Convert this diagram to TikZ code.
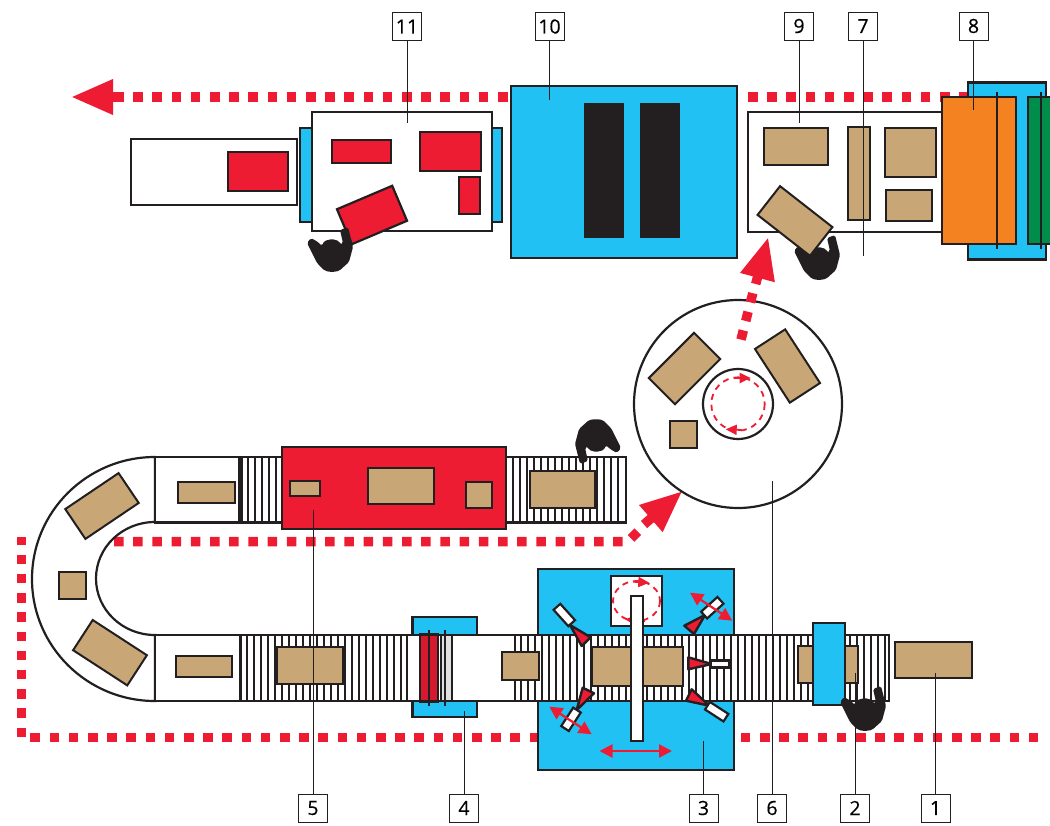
\documentclass[tikz,border=0pt]{standalone}
\usepackage{fontspec}
\setmainfont{Open Sans}
\newfontfamily\numfont{Open Sans}[FakeBold=0.4]
\usetikzlibrary{arrows.meta, positioning, calc}
\definecolor{LineInk}{RGB}{35, 31, 32}
\definecolor{GoodsTan}{RGB}{201, 166, 117}
\definecolor{PlantBlue}{RGB}{33, 193, 243}
\definecolor{FlowRed}{RGB}{237, 28, 51}
\definecolor{WrapOrange}{RGB}{245, 130, 32}
\definecolor{WrapGreen}{RGB}{0, 140, 74}
\begin{document}
\begin{tikzpicture}[x=1pt, y=-1pt,
  sz/.style 2 args={minimum width=#1pt, minimum height=#2pt},
  unit/.style={draw=LineInk, line width=2.2pt, fill=white, inner sep=0pt, outer sep=0pt},
  goods/.style={unit, line width=2pt, fill=GoodsTan},
  redgoods/.style={unit, fill=FlowRed},
  plate/.style={unit, fill=PlantBlue},
  num/.style={draw=LineInk, line width=1pt, fill=white, inner sep=0pt, minimum width=29pt, minimum height=28pt, font=\numfont\fontsize{19.5}{19.5}\selectfont},
  lead/.style={LineInk, line width=0.9pt},
  roller/.style={LineInk, line width=2.2pt},
  flow/.style={FlowRed, line width=9.5pt, dash pattern=on 9.5pt off 9.7pt},
  bigarr/.style={FlowRed, line width=9.5pt, -{Triangle[length=42pt, width=33pt]}},
  turn/.style={FlowRed, line width=1.8pt, dash pattern=on 6pt off 5pt},
  turnarr/.style={FlowRed, line width=1.8pt, -{Triangle[length=11pt, width=10pt]}},
  movearr/.style={FlowRed, line width=2.2pt, {Triangle[length=13pt, width=13pt]}-{Triangle[length=13pt, width=13pt]}},
  nozzle/.style={draw=LineInk, line width=2.4pt, fill=FlowRed, line join=round},
  operator/.pic={\fill[LineInk, rounded corners=1.8pt] (-25,-8) -- (-21,-13) -- (-14,-9) -- (-10,-5) -- (-8,-10) -- (0,-12) -- (7,-10) -- (9,-6) -- (11,-8) -- (8,-21) -- (16,-24) -- (21,-4) -- (17,11) -- (7,20) -- (0,21) -- (-7,20) -- (-15,12) -- (-20,2) -- cycle;}]
\useasboundingbox (0,0) rectangle (1050,825);
% flow lines
\coordinate (f0) at (114,97); \coordinate (f1) at (510,97);
\coordinate (f2) at (748,97); \coordinate (f3) at (968,97);
\coordinate (f4) at (1038.3,737.5); \coordinate (f5) at (30,737.5);
\coordinate (f5b) at (21.3,737); \coordinate (f6) at (21.3,537);
\coordinate (f8) at (114,541.5); \coordinate (f9) at (628,541.5); \coordinate (f10) at (638,531.5);
\draw[flow] (f0) -- (f1);
\draw[flow] (f2) -- (f3);
\draw[flow] (f4) -- (f5);
\draw[flow] (f5b) -- (f6);
\draw[flow] (f8) -- (f9) -- (f10);
\coordinate (a0) at (116,97); \coordinate (a1) at (71,97);
\coordinate (a2) at (644,524.5); \coordinate (a3) at (682.5,491);
\draw[bigarr] (a0) -- (a1);
\draw[bigarr] (a2) -- (a3);
% top line, station 11
\node[unit, sz={166}{66}] (out) at (214,172) {};
\node[redgoods, sz={60}{39}] (redout) at (258,171.5) {};
\node[plate, sz={202}{94}] (belt11) at (401,175) {};
\node[unit, sz={180}{119}] (table11) at (402,171.5) {};
\node[redgoods, sz={59}{23}] (red1) at (361.5,151.5) {};
\node[redgoods, sz={61}{39}] (red2) at (450.5,151.5) {};
\node[redgoods, sz={21}{37}] (red3) at (469.5,195.5) {};
\node[redgoods, sz={60}{38}, rotate=23] (red4) at (372,215) {};
\pic at (332,251) {operator};
% station 10
\node[plate, sz={226}{172}] (oven) at (624,172) {};
\node[fill=LineInk, inner sep=0pt, sz={40}{135}] (duct1) at (604,170.5) {};
\node[fill=LineInk, inner sep=0pt, sz={40}{135}] (duct2) at (660,170.5) {};
% stations 9, 7, 8
\pic at (819,259) {operator};
\node[unit, sz={194}{120}] (table9) at (845,172) {};
\node[goods, sz={64.5}{37}] (top1) at (796,146.5) {};
\node[goods, sz={22}{93}] (top2) at (859,173.5) {};
\node[goods, sz={51}{49.5}] (top3) at (910.5,152.5) {};
\node[goods, sz={46}{31}] (top4) at (909,205) {};
\node[goods, sz={66.5}{36.5}, rotate=-38] (top5) at (795,221) {};
\node[plate, sz={78}{177}] (wrapbase) at (1007,171) {};
\node[unit, fill=WrapOrange, sz={74}{147}] (wrapa) at (979,170.5) {};
\node[unit, fill=WrapGreen, sz={40}{147}] (wrapb) at (1048,170.5) {};
\coordinate (r1) at (997,92); \coordinate (r2) at (997,249);
\coordinate (r3) at (1041,92); \coordinate (r4) at (1041,249);
\draw[LineInk, line width=1.6pt] (r1) -- (r2);
\draw[LineInk, line width=1.6pt] (r3) -- (r4);
% station 6
\node[unit, circle, minimum size=208pt] (disc) at (738,404) {};
\node[unit, circle, minimum size=70pt] (hub) at (738,404) {};
\draw[turn] (hub.center) circle[radius=26.7];
\coordinate (t1) at (734,378); \coordinate (t2) at (750.7,378);
\coordinate (t3) at (741.7,430); \coordinate (t4) at (725.7,429.3);
\draw[turnarr] (t1) -- (t2);
\draw[turnarr] (t3) -- (t4);
\node[goods, sz={64}{37}, rotate=45] (disc1) at (684.5,368.5) {};
\node[goods, sz={64}{36}, rotate=-57] (disc2) at (787.5,366) {};
\node[goods, sz={27}{27}] (disc3) at (683.5,434.5) {};
\coordinate (f11) at (741,339.6); \coordinate (f12) at (753,292.4);
\draw[flow] (f11) -- (f12);
\coordinate (a4) at (755.7,284); \coordinate (a5) at (768.3,237);
\draw[bigarr] (a4) -- (a5);
% curved belt
\draw[unit] (155,457) arc[start angle=270, end angle=90, x radius=123, y radius=122] -- (155,635) arc[start angle=90, end angle=270, x radius=59, y radius=56.5] -- cycle;
\node[goods, sz={27}{26.5}] (cv1) at (72.3,585.5) {};
\node[goods, sz={64.3}{36}, rotate=34] (cv2) at (102,506) {};
\node[goods, sz={64.6}{36}, rotate=-33] (cv3) at (110,652.7) {};
% upper belt
\node[unit, sz={84}{65.5}] (up1) at (197,489.7) {};
\node[goods, sz={57}{21}] (up2) at (206,492) {};
\node[unit, sz={40.5}{65.5}] (up3) at (261.75,489.7) {};
\foreach \x in {248,255,...,282} \draw[roller] (\x,457) -- (\x,522.5);
\node[unit, sz={120}{65.5}] (up4) at (566,489.7) {};
\foreach \x in {513,520,...,622} \draw[roller] (\x,457) -- (\x,522.5);
\node[redgoods, sz={224}{82}] (press) at (394,488) {};
\node[goods, sz={30}{15}] (pr1) at (305,488.5) {};
\node[goods, sz={66}{36}] (pr2) at (401,486) {};
\node[goods, sz={26}{26}] (pr3) at (479,495) {};
\node[goods, sz={65}{37}] (up5) at (562.5,489.7) {};
\pic[rotate=180] at (596,440) {operator};
% lower line, blue plates
\node[plate, sz={196}{201}] (table3) at (636,669.5) {};
\node[unit, sz={51}{50}] (turn3) at (636.5,601) {};
\draw[turn] (turn3.center) ellipse[x radius=23.5, y radius=20];
\coordinate (t5) at (633,581.7); \coordinate (t6) at (649.3,582.7);
\coordinate (t7) at (645,621); \coordinate (t8) at (625,619.3);
\draw[turnarr] (t5) -- (t6);
\draw[turnarr] (t7) -- (t8);
\node[plate, sz={64.5}{100}] (plate4) at (444.8,667) {};
% lower belt
\node[unit, sz={85}{66}] (low1) at (197.5,668) {};
\node[goods, sz={56.5}{21}] (low2) at (204.2,666) {};
\node[unit, sz={167}{66}] (low3) at (324,668) {};
\foreach \x in {247,254,...,407} \draw[roller] (\x,635) -- (\x,701);
\node[unit, sz={374}{66}] (low4) at (702,668) {};
\foreach \x in {521,528,...,885} \draw[roller] (\x,635) -- (\x,701);
\node[unit, sz={108}{66}] (low5) at (461,668) {};
\node[redgoods, fill=FlowRed!90!black, sz={18}{67}] (bar1) at (429,668) {};
\node[unit, fill=black!12, sz={11}{66}] (bar2) at (446.5,668) {};
\coordinate (r5) at (429,630); \coordinate (r6) at (429,706);
\coordinate (r7) at (445,630); \coordinate (r8) at (445,706);
\draw[LineInk, line width=1.6pt] (r5) -- (r6);
\draw[LineInk, line width=1.6pt] (r7) -- (r8);
\node[goods, sz={66}{37}] (low6) at (310,665) {};
\node[goods, sz={37}{28}] (low7) at (520,665.5) {};
\node[goods, sz={91}{39}] (low8) at (637.5,666.7) {};
\node[goods, sz={60}{37}] (low9) at (828.3,664.7) {};
\node[plate, sz={32}{82}] (plate2) at (829,664) {};
\node[goods, sz={77}{36}] (entry) at (933.7,660.3) {};
% station 3 tools
\node[unit, sz={12.5}{145}] (pusher) at (637,668.5) {};
\coordinate (m1) at (599.5,751); \coordinate (m2) at (672,751);
\draw[movearr] (m1) -- (m2);
\draw[nozzle] (570,625) -- (590.7,637.3) -- (581.7,646) -- cycle;
\node[unit, sz={22}{9}, rotate=-48] (tool1) at (564.3,615) {};
\draw[nozzle] (705,615) -- (684.3,625.7) -- (694,634) -- cycle;
\node[unit, sz={22}{9}, rotate=42] (tool2) at (712.3,607.7) {};
\draw[nozzle] (711.7,664) -- (688.3,657.3) -- (688.3,669.3) -- cycle;
\node[unit, sz={18.5}{7}] (tool3) at (719.8,664) {};
\draw[nozzle] (709.3,705.7) -- (691.7,689.3) -- (686,700.7) -- cycle;
\node[unit, sz={22}{9}, rotate=-33] (tool4) at (716.7,711.7) {};
\draw[nozzle] (576.7,710) -- (594,693.3) -- (582.7,687.7) -- cycle;
\node[unit, sz={22}{9}, rotate=57] (tool5) at (571,719.3) {};
\coordinate (m3) at (690,592.7); \coordinate (m4) at (732.3,620.7);
\coordinate (m5) at (549.3,706.7); \coordinate (m6) at (591.7,734.3);
\draw[movearr] (m3) -- (m4);
\draw[movearr] (m5) -- (m6);
% labels
\node[num] (n11) at (407,26.5) {11};
\node[num] (n10) at (549.5,26.5) {10};
\node[num] (n9) at (799,26) {9};
\node[num] (n7) at (863,26) {7};
\node[num] (n8) at (973.5,26) {8};
\node[num] (n5) at (313,808) {5};
\node[num] (n4) at (464,808) {4};
\node[num] (n3) at (703.5,808) {3};
\node[num] (n6) at (772,808) {6};
\node[num] (n2) at (855,808) {2};
\node[num] (n1) at (935.5,808) {1};
\coordinate (c11) at (407,123); \coordinate (c10) at (549.5,100);
\coordinate (c9) at (799,123); \coordinate (c7) at (863,256); \coordinate (c8) at (973.5,110);
\coordinate (c5) at (313,510); \coordinate (c4) at (464,711); \coordinate (c3) at (703.5,741);
\coordinate (c6) at (772,481); \coordinate (c2) at (855,673); \coordinate (c1) at (935.5,673);
\foreach \k in {11,10,9,7,8} \draw[lead] (n\k.south) -- (c\k);
\foreach \k in {5,4,3,6,2,1} \draw[lead] (n\k.north) -- (c\k);
\pic at (865,710) {operator};
\end{tikzpicture}
\end{document}
